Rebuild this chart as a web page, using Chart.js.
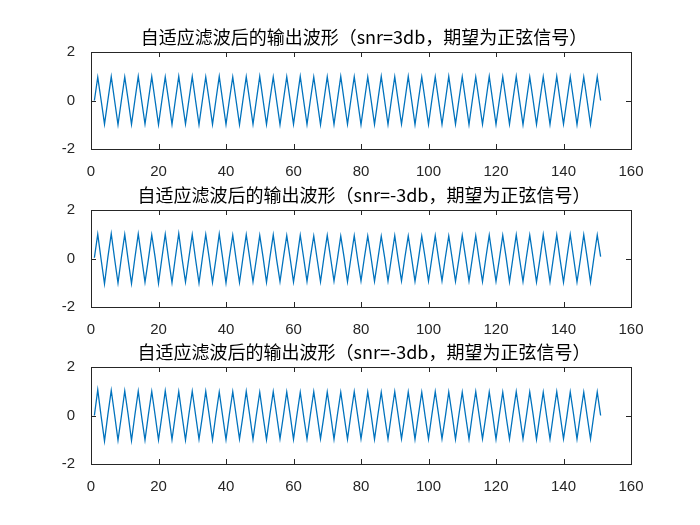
<!DOCTYPE html>
<html>
<head>
<meta charset="utf-8">
<script src="https://cdn.jsdelivr.net/npm/chart.js@4.4.0/dist/chart.umd.min.js"></script>
<style>
  html, body { margin: 0; padding: 0; background: #fff; }
  #wrap { position: relative; width: 700px; height: 525px; overflow: hidden; }
  .panel { position: absolute; left: 0; width: 700px; height: 185px; }
</style>
</head>
<body>
<div id="wrap">
  <div class="panel" style="top:0px"><canvas id="c1" width="700" height="185"></canvas></div>
  <div class="panel" style="top:158px"><canvas id="c2" width="700" height="185"></canvas></div>
  <div class="panel" style="top:315px"><canvas id="c3" width="700" height="185"></canvas></div>
</div>
<script>
// subplot titles
const titles = [
  '自适应滤波后的输出波形（snr=3db，期望为正弦信号）',
  '自适应滤波后的输出波形（snr=-3db，期望为正弦信号）',
  '自适应滤波后的输出波形（snr=-3db，期望为正弦信号）'
];

// tick labels
const xTicks = [0, 20, 40, 60, 80, 100, 120, 140, 160];
const yTicks = [-2, 0, 2];

// filter output, samples 1..151
const outSnr3 = [
  0.00, 0.96, 0.01, -0.97, 0.01, 0.98, -0.01, -0.99,
  0.00, 0.97, 0.02, -0.98, 0.01, 0.99, 0.00, -0.97,
  0.01, 0.98, -0.01, -0.99, 0.00, 0.97, 0.01, -0.98,
  0.02, 0.99, 0.00, -0.97, 0.01, 0.98, -0.02, -0.99,
  0.00, 0.97, 0.01, -0.98, 0.01, 0.99, 0.00, -0.98,
  0.02, 0.97, -0.01, -0.99, 0.00, 0.98, 0.01, -0.97,
  0.01, 0.99, 0.00, -0.98, 0.02, 0.97, -0.01, -0.99,
  0.00, 0.98, 0.01, -0.97, 0.01, 0.99, 0.00, -0.98,
  0.02, 0.97, -0.01, -0.99, 0.00, 0.98, 0.01, -0.98,
  0.01, 0.99, 0.00, -0.97, 0.02, 0.98, -0.01, -0.99,
  0.00, 0.97, 0.01, -0.98, 0.01, 0.99, 0.00, -0.98,
  0.02, 0.98, -0.01, -0.97, 0.00, 0.99, 0.01, -0.99,
  0.01, 0.97, 0.00, -0.98, 0.02, 0.98, -0.01, -0.98,
  0.00, 0.99, 0.01, -0.97, 0.01, 0.98, 0.00, -0.99,
  0.02, 0.97, -0.01, -0.98, 0.00, 0.99, 0.01, -0.98,
  0.01, 0.98, 0.00, -0.97, 0.02, 0.99, -0.01, -0.99,
  0.00, 0.97, 0.01, -0.98, 0.01, 0.98, 0.00, -0.98,
  0.02, 0.99, -0.01, -0.97, 0.00, 0.98, 0.01, -0.99,
  0.01, 0.97, 0.00, -0.98, 0.02, 0.98, 0.00
];

const outSnrM3a = [
  0.03, 1.00, -0.04, -1.04, 0.05, 1.02, -0.02, -1.01,
  0.04, 0.99, -0.05, -1.03, 0.02, 1.01, 0.03, -0.98,
  -0.04, 0.97, 0.05, -1.02, 0.01, 1.00, -0.03, -0.99,
  0.04, 1.03, -0.02, -0.97, 0.03, 0.98, -0.05, -1.01,
  0.02, 0.99, 0.04, -0.98, -0.03, 1.01, 0.02, -1.00,
  0.05, 0.96, -0.04, -0.99, 0.01, 0.98, 0.03, -0.96,
  -0.02, 0.95, 0.04, -0.98, 0.03, 0.97, -0.05, -0.95,
  0.02, 0.94, 0.01, -0.97, -0.04, 0.96, 0.03, -0.94,
  0.05, 0.93, -0.02, -0.96, 0.03, 0.95, 0.02, -0.93,
  -0.03, 0.92, 0.04, -0.95, 0.01, 0.94, -0.04, -0.92,
  0.03, 0.93, 0.02, -0.94, -0.02, 0.92, 0.05, -0.93,
  0.01, 0.94, -0.03, -0.92, 0.04, 0.93, 0.02, -0.94,
  -0.05, 0.92, 0.03, -0.93, 0.02, 0.94, -0.02, -0.92,
  0.04, 0.93, 0.01, -0.94, -0.03, 0.95, 0.04, -0.93,
  0.02, 0.94, -0.04, -0.95, 0.03, 0.96, 0.01, -0.94,
  -0.02, 0.95, 0.05, -0.96, 0.01, 0.97, -0.03, -0.95,
  0.04, 0.96, 0.02, -0.97, -0.04, 0.98, 0.03, -0.96,
  0.02, 0.97, -0.05, -0.98, 0.03, 0.99, 0.02, -0.97,
  -0.03, 0.98, 0.04, -0.97, 0.02, 0.97, 0.08
];

const outSnrM3b = [
  0.00, 1.06, -0.03, -1.05, 0.04, 1.03, 0.02, -1.02,
  -0.03, 1.01, 0.04, -1.03, 0.02, 1.00, -0.04, -1.01,
  0.03, 0.99, 0.01, -1.00, -0.02, 1.01, 0.04, -0.99,
  0.02, 0.98, -0.03, -1.01, 0.04, 1.00, 0.01, -0.98,
  -0.04, 0.99, 0.03, -1.00, 0.02, 0.97, -0.02, -0.99,
  0.04, 0.98, 0.01, -0.97, -0.03, 0.99, 0.03, -0.98,
  0.02, 0.96, -0.04, -0.99, 0.03, 0.98, 0.02, -0.96,
  -0.02, 0.97, 0.04, -0.98, 0.01, 0.96, -0.03, -0.97,
  0.03, 0.98, 0.02, -0.96, -0.04, 0.97, 0.03, -0.98,
  0.02, 0.96, -0.02, -0.97, 0.04, 0.98, 0.01, -0.96,
  -0.03, 0.97, 0.03, -0.98, 0.02, 0.96, -0.04, -0.97,
  0.03, 0.98, 0.02, -0.96, -0.02, 0.97, 0.04, -0.98,
  0.01, 0.96, -0.03, -0.97, 0.03, 0.98, 0.02, -0.96,
  -0.04, 0.97, 0.03, -0.98, 0.02, 0.96, -0.02, -0.97,
  0.04, 0.98, 0.01, -0.96, -0.03, 0.97, 0.03, -0.98,
  0.02, 0.96, -0.04, -0.97, 0.03, 0.98, 0.02, -0.96,
  -0.02, 0.97, 0.04, -0.98, 0.01, 0.96, -0.03, -0.97,
  0.03, 0.98, 0.02, -0.96, -0.04, 0.97, 0.03, -0.97,
  0.02, 0.96, -0.02, -0.97, 0.03, 0.97, 0.00
];

const axisColor = '#262626';
const tickFont = { family: 'Liberation Sans, Arial, sans-serif', size: 15 };

// matlab-like box, inward ticks on all four sides, and title
const boxPlugin = {
  id: 'box',
  afterDatasetsDraw(chart) {
    const { ctx, chartArea: a, scales } = chart;
    ctx.save();
    ctx.strokeStyle = axisColor;
    ctx.lineWidth = 1;
    ctx.strokeRect(a.left + 0.5, a.top + 0.5, a.right - a.left, a.bottom - a.top);
    ctx.beginPath();
    scales.x.ticks.forEach(t => {
      const px = Math.round(scales.x.getPixelForValue(t.value)) + 0.5;
      ctx.moveTo(px, a.bottom); ctx.lineTo(px, a.bottom - 5);
      ctx.moveTo(px, a.top); ctx.lineTo(px, a.top + 5);
    });
    scales.y.ticks.forEach(t => {
      const py = Math.round(scales.y.getPixelForValue(t.value)) + 0.5;
      ctx.moveTo(a.left, py); ctx.lineTo(a.left + 5, py);
      ctx.moveTo(a.right, py); ctx.lineTo(a.right - 5, py);
    });
    ctx.stroke();

    ctx.fillStyle = '#000';
    ctx.font = '18px "Noto Sans CJK SC", sans-serif';
    ctx.textAlign = 'center';
    ctx.textBaseline = 'middle';
    ctx.fillText(chart.options.plugins.box.text, (a.left + a.right) / 2 + 3, a.top - 15);
    ctx.restore();
  }
};

function makeChart(id, title, values) {
  const points = values.map((v, i) => ({ x: i + 1, y: v }));
  new Chart(document.getElementById(id), {
    type: 'line',
    data: {
      datasets: [{
        data: points,
        borderColor: '#0072BD',
        borderWidth: 1.3,
        pointRadius: 0,
        tension: 0,
        fill: false
      }]
    },
    options: {
      responsive: false,
      animation: false,
      layout: { padding: { top: 52, left: 0, right: 69, bottom: 6 } },
      plugins: {
        legend: { display: false },
        tooltip: { enabled: false },
        box: { text: title }
      },
      scales: {
        x: {
          type: 'linear',
          min: xTicks[0],
          max: xTicks[xTicks.length - 1],
          afterBuildTicks: s => { s.ticks = xTicks.map(v => ({ value: v })); },
          afterFit: s => { s.height = 30; },
          grid: { display: false },
          border: { display: false },
          ticks: { color: axisColor, font: tickFont, padding: 6, maxRotation: 0 }
        },
        y: {
          min: yTicks[0],
          max: yTicks[yTicks.length - 1],
          afterBuildTicks: s => { s.ticks = yTicks.map(v => ({ value: v })); },
          afterFit: s => { s.width = 91; },
          grid: { display: false },
          border: { display: false },
          ticks: { color: axisColor, font: tickFont, padding: 8 }
        }
      }
    },
    plugins: [boxPlugin]
  });
}

makeChart('c1', titles[0], outSnr3);
makeChart('c2', titles[1], outSnrM3a);
makeChart('c3', titles[2], outSnrM3b);
</script>
</body>
</html>
